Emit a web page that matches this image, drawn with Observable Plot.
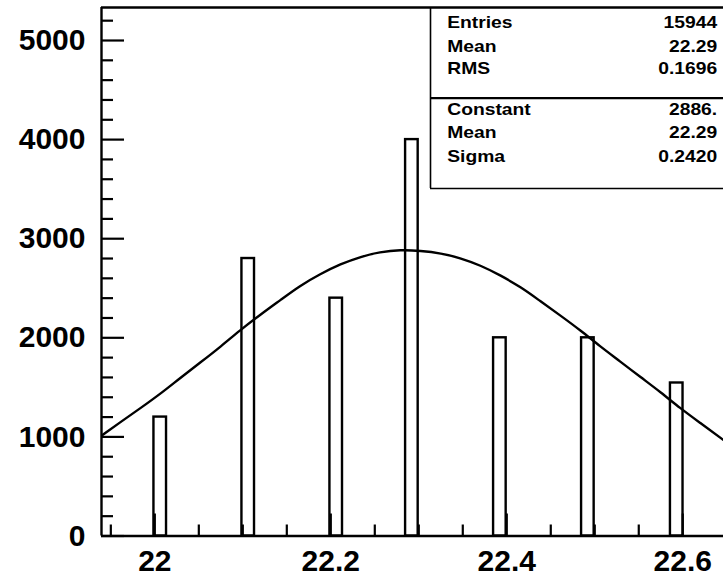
<!DOCTYPE html>
<html><head><meta charset="utf-8">
<script src="https://cdn.jsdelivr.net/npm/d3@7"></script>
<script src="https://cdn.jsdelivr.net/npm/@observablehq/plot@0.6"></script>
<style>body{margin:0;background:#fff;} #chart svg{display:block;}</style>
</head><body><div id="chart"></div>
<script>
// ---------- data ----------
const binLow    = [21.999, 22.099, 22.199, 22.285, 22.385, 22.485, 22.586];
const binWidth  = 0.0143;
const binCounts = [1200, 2800, 2400, 4000, 2000, 2000, 1544];

const fitX = [21.939, 21.961, 21.984, 22.007, 22.029, 22.052, 22.075, 22.097, 22.120, 22.143, 22.165,
              22.188, 22.211, 22.234, 22.256, 22.279, 22.302, 22.325, 22.347, 22.370, 22.393, 22.416,
              22.438, 22.461, 22.484, 22.506, 22.529, 22.552, 22.575, 22.597, 22.620, 22.646];
const fitY = [1010, 1149, 1293, 1442, 1595, 1753, 1914, 2075, 2233, 2383, 2521,
              2641, 2740, 2815, 2862, 2883, 2876, 2850, 2802, 2727, 2627, 2507,
              2371, 2224, 2071, 1916, 1760, 1604, 1448, 1293, 1140, 970];

const xTickValues = [22, 22.2, 22.4, 22.6];
const xTickLabels = ["22", "22.2", "22.4", "22.6"];
const xMinorTicks = [21.95, 22.05, 22.1, 22.15, 22.25, 22.3, 22.35, 22.45, 22.5, 22.55];
const yTickValues = [0, 1000, 2000, 3000, 4000, 5000];
const yTickLabels = ["0", "1000", "2000", "3000", "4000", "5000"];
const yMinorTicks = [200, 400, 600, 800, 1200, 1400, 1600, 1800, 2200, 2400, 2600, 2800,
                     3200, 3400, 3600, 3800, 4200, 4400, 4600, 4800, 5200];

const statLabels = ["Entries", "Mean", "RMS"];
const statValues = ["15944", "22.29", "0.1696"];
const fitLabels  = ["Constant", "Mean", "Sigma"];
const fitValues  = ["2886.", "22.29", "0.2420"];

const xDomain = [21.9394, 22.6463];
const yDomain = [0, 5333];

// ---------- layout ----------
const W = 723, H = 579;
const M = {top: 7, right: 0, bottom: 43.5, left: 101};
const FONT = '"Liberation Sans", Arial, Helvetica, sans-serif';
const box = {left: 430, bottom: 188, sep: 97.7, labelX: 446.7, valueX: 716.7};
const rowY = [22.6, 45.8, 68.3, 109.2, 132.5, 155.8];
const statFont = 16.5, statStretch = 1.17;
const LW = 2.4;

const xs = d3.scaleLinear(xDomain, [M.left, W - M.right]);
const ys = d3.scaleLinear(yDomain, [H - M.bottom, M.top]);

const bins = binLow.map((lo, i) => ({x1: lo, x2: lo + binWidth, y: binCounts[i]}));
const fit = fitX.map((x, i) => ({x, y: fitY[i]}));

const allLabels = [...statLabels, ...fitLabels];
const allValues = [...statValues, ...fitValues];
const statMarks = [];
allLabels.forEach((t, i) => {
  statMarks.push(Plot.text([t], {text: d => d, frameAnchor: "top-left", dx: box.labelX - M.left, dy: rowY[i] - M.top,
    textAnchor: "start", lineAnchor: "middle", fontSize: statFont, fontWeight: "bold", fill: "black"}));
  statMarks.push(Plot.text([allValues[i]], {text: d => d, frameAnchor: "top-right", dx: box.valueX - (W - M.right), dy: rowY[i] - M.top,
    textAnchor: "end", lineAnchor: "middle", fontSize: statFont, fontWeight: "bold", fill: "black"}));
});

const chart = Plot.plot({
  width: W, height: H,
  marginTop: M.top, marginRight: M.right, marginBottom: M.bottom, marginLeft: M.left,
  x: {domain: xDomain},
  y: {domain: yDomain},
  style: {fontFamily: FONT, background: "white", color: "black"},
  marks: [
    Plot.rectY(bins, {x1: "x1", x2: "x2", y: "y", fill: "none", stroke: "black", strokeWidth: LW}),
    Plot.line(fit, {x: "x", y: "y", curve: "natural", stroke: "black", strokeWidth: LW, clip: true}),
    // frame lines
    Plot.ruleX([xDomain[0]], {stroke: "black", strokeWidth: LW}),
    Plot.ruleY([yDomain[0]], {stroke: "black", strokeWidth: LW}),
    Plot.ruleY([yDomain[1]], {stroke: "black", strokeWidth: LW}),
    // axes
    Plot.axisX(xTickValues, {tickSize: -22, tickFormat: () => "", strokeWidth: 2.2, label: null}),
    Plot.axisX(xMinorTicks, {tickSize: -11, tickFormat: () => "", strokeWidth: 2.2, label: null}),
    Plot.axisX(xTickValues, {tickSize: 0, tickPadding: 14, label: null, fontSize: 30, fontWeight: "bold",
      tickFormat: d => xTickLabels[xTickValues.indexOf(d)]}),
    Plot.axisY(yTickValues, {tickSize: -23, tickFormat: () => "", strokeWidth: 2.2, label: null}),
    Plot.axisY(yMinorTicks, {tickSize: -12, tickFormat: () => "", strokeWidth: 2.2, label: null}),
    Plot.axisY(yTickValues, {tickSize: 0, tickPadding: 16, label: null, fontSize: 30, fontWeight: "bold",
      tickFormat: d => yTickLabels[yTickValues.indexOf(d)]}),
    // stats box
    Plot.ruleX([xs.invert(box.left)], {y1: ys.invert(box.bottom), y2: yDomain[1], stroke: "black", strokeWidth: 1.6}),
    Plot.ruleY([ys.invert(box.bottom)], {x1: xs.invert(box.left), x2: xDomain[1], stroke: "black", strokeWidth: 1.6}),
    Plot.ruleY([ys.invert(box.sep)], {x1: xs.invert(box.left), x2: xDomain[1], stroke: "black", strokeWidth: 2.2}),
    ...statMarks
  ]
});
document.getElementById("chart").appendChild(chart);

// stretch the stats-box text horizontally (ROOT-style wide Helvetica), around each text's anchor
chart.querySelectorAll('g[aria-label="text"] text').forEach(el => {
  let tr = el.getAttribute("transform") || "";
  const x = el.getAttribute("x");
  if (x !== null && !isNaN(+x)) {
    tr += ` translate(${+x},0)`;
    el.removeAttribute("x");
  }
  el.setAttribute("transform", `${tr} scale(${statStretch},1)`);
});
</script>
</body></html>
